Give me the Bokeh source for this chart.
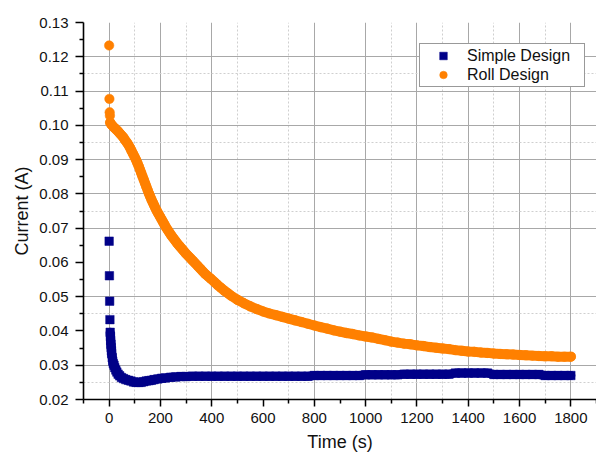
from bokeh.plotting import figure
from bokeh.models import (Range1d, FixedTicker, PrintfTickFormatter, Legend,
                          LegendItem, ColumnDataSource)
from bokeh.embed import file_html
from bokeh.resources import INLINE

# ---------------- data ----------------
simple_t = [0, 1, 2, 3, 4, 5, 6, 7, 8, 9, 10, 12, 14, 16, 19, 22, 26, 30, 35, 41,
            48, 56, 65, 75, 85, 95, 105, 115, 125, 135, 145, 155, 165, 175, 190,
            205, 220, 240, 260, 280, 300, 325, 350, 375,
            400, 425, 450, 475, 500, 525, 550, 575, 600, 625, 650, 675, 700, 725,
            750, 775, 800, 825, 850, 875, 900, 925, 950, 975, 1000, 1025, 1050,
            1075, 1100, 1125, 1150, 1175, 1200, 1225, 1250, 1275, 1300, 1325,
            1350, 1375, 1400, 1425, 1450, 1475, 1500, 1525, 1550, 1575, 1600,
            1625, 1650, 1675, 1700, 1725, 1750, 1775, 1800]
simple_i = [0.0662, 0.0561, 0.0487, 0.0433, 0.0396, 0.0384, 0.0372, 0.0361,
            0.0351, 0.0342, 0.0334, 0.0322, 0.0312, 0.0305, 0.0300, 0.0293,
            0.0286, 0.0280, 0.0274, 0.0269, 0.0264, 0.0261, 0.0258, 0.0256,
            0.0254, 0.0251, 0.0250, 0.0250, 0.0250, 0.0252, 0.0254, 0.0255,
            0.0256, 0.0258, 0.0260, 0.0262, 0.0263, 0.0265, 0.0266, 0.0267,
            0.0267, 0.0268, 0.0268, 0.0268,
            0.0268, 0.0268, 0.0268, 0.0268, 0.0268, 0.0268, 0.0268, 0.0268,
            0.0268, 0.0268, 0.0268, 0.0268, 0.0268, 0.0268, 0.0268, 0.0268,
            0.0270, 0.0270, 0.0270, 0.0270, 0.0270, 0.0270, 0.0270, 0.0270,
            0.0272, 0.0272, 0.0272, 0.0272, 0.0272, 0.0272,
            0.0274, 0.0274, 0.0274, 0.0274, 0.0274, 0.0274, 0.0274, 0.0274,
            0.0277, 0.0277, 0.0277, 0.0277, 0.0277, 0.0277,
            0.0273, 0.0273, 0.0273, 0.0273, 0.0273, 0.0273, 0.0273, 0.0273,
            0.0270, 0.0270, 0.0270, 0.0270, 0.0270]

roll_t = [0, 1, 2, 3, 4, 8, 14, 20, 27, 34, 41, 48, 55, 62, 69, 75, 81, 87, 93,
          99, 105, 110, 115, 120, 125, 130, 135, 140, 145, 150, 155, 160, 165,
          170, 175, 180, 186, 192, 198, 204, 210, 216, 222, 229, 236, 243, 250,
          258, 266, 274, 282, 290, 299, 308, 317, 326, 335, 345, 355, 365, 375,
          386, 397, 410, 423, 436, 450, 463, 475,
          500, 525, 550, 575, 600, 625, 650, 675, 700, 725, 750, 775, 800, 825,
          850, 875, 900, 925, 950, 975, 1000, 1025, 1050, 1075, 1100, 1125,
          1150, 1175, 1200, 1225, 1250, 1275, 1300, 1325, 1350, 1375, 1400,
          1425, 1450, 1475, 1500, 1525, 1550, 1575, 1600, 1625, 1650, 1675,
          1700, 1725, 1750, 1775, 1800]
roll_i = [0.1233, 0.1077, 0.1038, 0.1028, 0.1008, 0.1003, 0.0998, 0.0993,
          0.0988, 0.0983, 0.0977, 0.0971, 0.0965, 0.0957, 0.0950, 0.0943,
          0.0935, 0.0926, 0.0917, 0.0908, 0.0899, 0.0890, 0.0881, 0.0871,
          0.0861, 0.0851, 0.0841, 0.0831, 0.0821, 0.0811, 0.0801, 0.0792,
          0.0783, 0.0775, 0.0767, 0.0759, 0.0750, 0.0742, 0.0734, 0.0726,
          0.0718, 0.0710, 0.0702, 0.0694, 0.0686, 0.0678, 0.0671, 0.0663,
          0.0655, 0.0648, 0.0641, 0.0634, 0.0626, 0.0619, 0.0612, 0.0605,
          0.0598, 0.0590, 0.0582, 0.0574, 0.0566, 0.0559, 0.0552, 0.0543,
          0.0534, 0.0526, 0.0517, 0.0510, 0.0503,
          0.0491, 0.0481, 0.0472, 0.0464, 0.0457, 0.0451, 0.0446, 0.0441,
          0.0436, 0.0431, 0.0426, 0.0421, 0.0416, 0.0411, 0.0407, 0.0402,
          0.0398, 0.0394, 0.0391, 0.0387, 0.0384, 0.0381, 0.0377, 0.0373,
          0.0369, 0.0366, 0.0363, 0.0361, 0.0358, 0.0356, 0.0353, 0.0351,
          0.0349, 0.0347, 0.0344, 0.0342, 0.0340, 0.0339, 0.0337, 0.0336,
          0.0334, 0.0333, 0.0332, 0.0331, 0.0330, 0.0329, 0.0328, 0.0327,
          0.0326, 0.0326, 0.0325, 0.0325, 0.0325]

x_ticks = [0, 200, 400, 600, 800, 1000, 1200, 1400, 1600, 1800]
x_minor = [-100, 100, 300, 500, 700, 900, 1100, 1300, 1500, 1700, 1900]
y_ticks = [0.02, 0.03, 0.04, 0.05, 0.06, 0.07, 0.08, 0.09, 0.10, 0.11, 0.12, 0.13]
y_minor = [0.025, 0.035, 0.045, 0.055, 0.065, 0.075, 0.085, 0.095, 0.105, 0.115, 0.125]

# grid lines that are visible in the picture
x_grid = [0, 200, 400, 800, 1000, 1200, 1400, 1600, 1800]
x_grid_minor = [100, 300, 500, 700, 1100, 1300, 1500, 1700]
y_grid = [0.03, 0.05, 0.07, 0.08, 0.09, 0.10, 0.11, 0.12]
y_grid_minor = [0.025, 0.045, 0.075, 0.095, 0.115]

FONT = "Liberation Sans"
BLUE = "#000088"
ORANGE = "#ff8000"

p = figure(width=596, height=456, x_range=Range1d(-100, 1900),
           y_range=Range1d(0.02, 0.13), output_backend="svg",
           toolbar_location=None, min_border_left=83, min_border_right=0,
           min_border_top=22, min_border_bottom=57)
p.outline_line_color = None
p.background_fill_color = "white"

s_src = ColumnDataSource(dict(t=simple_t, i=simple_i))
r_src = ColumnDataSource(dict(t=roll_t, i=roll_i))

# continuous bands (dense measurement points) after the first isolated samples
p.line(simple_t[4:], simple_i[4:], line_color=BLUE, line_width=9,
       line_join="round", line_cap="round")
p.line(roll_t[4:], roll_i[4:], line_color=ORANGE, line_width=10,
       line_join="round", line_cap="round")

r1 = p.scatter("t", "i", source=s_src, marker="square", size=8.5,
               fill_color=BLUE, line_color=BLUE, line_width=0.5)
r2 = p.scatter("t", "i", source=r_src, marker="circle", size=9.5,
               fill_color=ORANGE, line_color=ORANGE, line_width=0.5)

# axes
p.xaxis.ticker = FixedTicker(ticks=x_ticks, minor_ticks=x_minor)
p.yaxis.ticker = FixedTicker(ticks=y_ticks, minor_ticks=y_minor)
p.yaxis.formatter = PrintfTickFormatter(format="%.2f")
for ax in (p.xaxis[0], p.yaxis[0]):
    ax.axis_line_color = "#000000"
    ax.axis_line_width = 1.6
    ax.major_tick_line_color = "#000000"
    ax.major_tick_line_width = 1.5
    ax.minor_tick_line_color = "#000000"
    ax.minor_tick_line_width = 1.5
    ax.major_tick_in = 0
    ax.minor_tick_in = 0
    ax.minor_tick_out = 4
    ax.major_label_text_font = FONT
    ax.major_label_text_font_size = "15px"
    ax.major_label_text_color = "#111111"
    ax.axis_label_text_font = FONT
    ax.axis_label_text_font_size = "18px"
    ax.axis_label_text_font_style = "normal"
    ax.axis_label_text_color = "#111111"
p.xaxis.major_tick_out = 7
p.yaxis.major_tick_out = 8
p.xaxis.major_label_standoff = 6
p.yaxis.major_label_standoff = 7
p.xaxis.axis_label = "Time (s)"
p.yaxis.axis_label = "Current (A)"
p.xaxis.axis_label_standoff = 6
p.yaxis.axis_label_standoff = 4

# grids
p.xgrid.ticker = FixedTicker(ticks=x_grid, minor_ticks=x_grid_minor)
p.ygrid.ticker = FixedTicker(ticks=y_grid, minor_ticks=y_grid_minor)
for g in (p.xgrid[0], p.ygrid[0]):
    g.grid_line_color = "#a8a8a8"
    g.grid_line_width = 1
    g.minor_grid_line_color = "#cfcfcf"
    g.minor_grid_line_dash = "2 2"
    g.minor_grid_line_width = 1

legend = Legend(items=[LegendItem(label="Simple Design", renderers=[r1]),
                       LegendItem(label="Roll Design", renderers=[r2])],
                location=(336, 312), margin=0, padding=2, spacing=0,
                glyph_width=42, glyph_height=19, label_height=19,
                label_width=115, label_standoff=3,
                label_text_font=FONT, label_text_font_size="16px",
                label_text_color="#111111",
                border_line_color="#333333", border_line_width=1,
                background_fill_color="white", background_fill_alpha=1.0)
p.add_layout(legend, "center")

open("out.html", "w").write(file_html(p, INLINE))
